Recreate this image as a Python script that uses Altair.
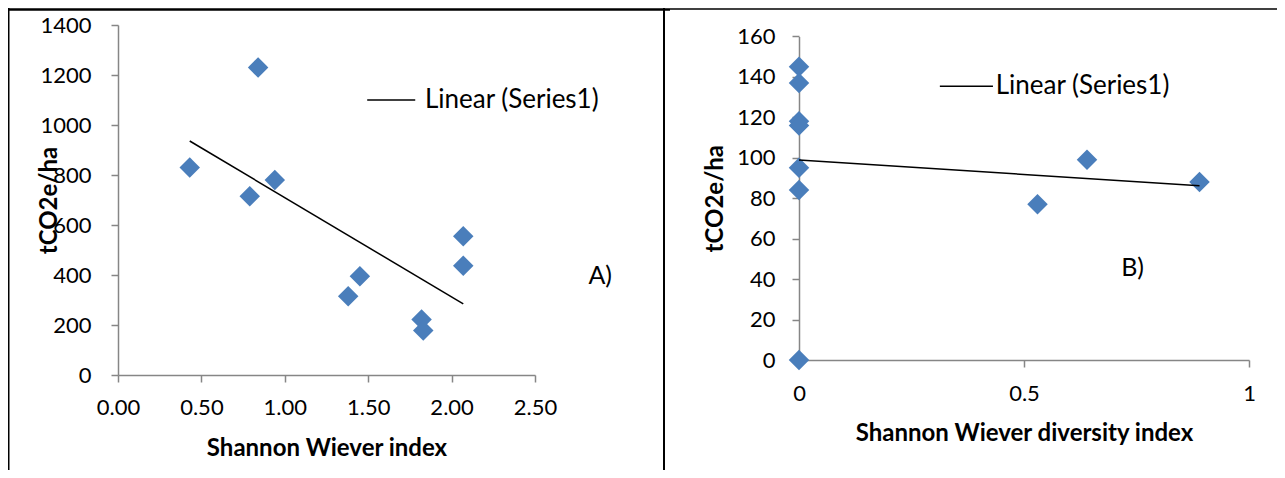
import altair as alt
import pandas as pd

# ---------------- data ----------------
# Panel A: Shannon Wiever index vs tCO2e/ha
a_x = [0.43, 0.84, 0.79, 0.94, 1.38, 1.45, 1.82, 1.83, 2.07, 2.07]
a_y = [830, 1230, 715, 780, 315, 395, 222, 178, 555, 437]
a_xticks = [0, 0.5, 1.0, 1.5, 2.0, 2.5]
a_yticks = [0, 200, 400, 600, 800, 1000, 1200, 1400]

# Panel B: Shannon Wiever diversity index vs tCO2e/ha
b_x = [0, 0, 0, 0, 0, 0, 0, 0.53, 0.64, 0.89]
b_y = [145, 137, 118, 116, 95, 84, 0, 77, 99, 88]
b_xticks = [0, 0.5, 1]
b_yticks = [0, 20, 40, 60, 80, 100, 120, 140, 160]

legend_label = ["Linear (Series1)"]
panel_a_label = ["A)"]
panel_b_label = ["B)"]

# ---------------- style ----------------
FONT = "Lato"
GRAY = "#868686"
BLUE = "#4A7EBB"
W, H = 1269, 462

dfA = pd.DataFrame({"x": a_x, "y": a_y})
dfB = pd.DataFrame({"x": b_x, "y": b_y})
dfLeg = pd.DataFrame({"t": legend_label})
dfLA = pd.DataFrame({"t": panel_a_label})
dfLB = pd.DataFrame({"t": panel_b_label})
one = pd.DataFrame({"k": [0]})


def sAx():
    return alt.Scale(domain=[0, 2.5], range=[110, 527], nice=False, zero=False)


def sAy():
    return alt.Scale(domain=[0, 1400], range=[367, 17], nice=False, zero=False)


def sBx():
    return alt.Scale(domain=[0, 1], range=[791, 1241], nice=False, zero=False)


def sBy():
    return alt.Scale(domain=[0, 160], range=[352, 28.4], nice=False, zero=False)


common_axis = dict(labelFont=FONT, labelFontSize=22, labelColor="black",
                   domainColor=GRAY, tickColor=GRAY, tickSize=7, grid=False,
                   domainWidth=1.5, tickWidth=1.5,
                   titleFont=FONT, titleFontSize=24, titleFontWeight="bold",
                   titleColor="black", labelFlush=False, labelOverlap=False)

axAx = alt.Axis(orient="bottom", offset=-95, values=a_xticks, format=".2f",
                title="Shannon Wiever index", titleX=318.5, titleY=80,
                titleBaseline="alphabetic", titleAlign="center",
                labelPadding=15, **common_axis)
axAy = alt.Axis(orient="left", offset=-110, values=a_yticks, format="d",
                title="tCO2e/ha", titleAngle=270, titleX=-62, titleY=192,
                titleBaseline="alphabetic", titleAlign="center",
                labelPadding=20, **common_axis)
axBx = alt.Axis(orient="bottom", offset=-110, values=b_xticks, format="~g",
                title="Shannon Wiever diversity index", titleX=1016, titleY=80,
                titleBaseline="alphabetic", titleAlign="center",
                labelPadding=16, **common_axis)
axBy = alt.Axis(orient="left", offset=-791, values=b_yticks, format="d",
                title="tCO2e/ha", titleAngle=270, titleX=-77, titleY=190.2,
                titleBaseline="alphabetic", titleAlign="center",
                labelPadding=17, **common_axis)

# ---------------- panel A ----------------
ptsA = alt.Chart(dfA).mark_point(shape="diamond", filled=True, size=420,
                                 color=BLUE, opacity=1).encode(
    x=alt.X("x:Q", scale=sAx(), axis=axAx),
    y=alt.Y("y:Q", scale=sAy(), axis=axAy),
)
trendA = alt.Chart(dfA).transform_regression("x", "y").mark_line(
    color="black", strokeWidth=1.5).encode(
    x=alt.X("x:Q", scale=sAx(), axis=None),
    y=alt.Y("y:Q", scale=sAy(), axis=None),
)
legLineA = alt.Chart(one).mark_rule(color="black", strokeWidth=1.5).encode(
    x=alt.XDatum(1.494, scale=sAx(), axis=None),
    x2=alt.X2Datum(1.782),
    y=alt.YDatum(1100, scale=sAy(), axis=None),
)
legTextA = alt.Chart(dfLeg).mark_text(align="left", baseline="middle", font=FONT,
                                      fontSize=26, color="black").encode(
    x=alt.XDatum(1.84, scale=sAx(), axis=None),
    y=alt.YDatum(1100, scale=sAy(), axis=None),
    text="t:N",
)
labA = alt.Chart(dfLA).mark_text(align="left", baseline="middle", font=FONT,
                                 fontSize=25, color="black").encode(
    x=alt.XDatum(2.82, scale=sAx(), axis=None),
    y=alt.YDatum(396, scale=sAy(), axis=None),
    text="t:N",
)

# ---------------- panel B ----------------
ptsB = alt.Chart(dfB).mark_point(shape="diamond", filled=True, size=420,
                                 color=BLUE, opacity=1).encode(
    x=alt.X("x:Q", scale=sBx(), axis=axBx),
    y=alt.Y("y:Q", scale=sBy(), axis=axBy),
)
trendB = alt.Chart(dfB).transform_regression("x", "y").mark_line(
    color="black", strokeWidth=1.5).encode(
    x=alt.X("x:Q", scale=sBx(), axis=None),
    y=alt.Y("y:Q", scale=sBy(), axis=None),
)
legLineB = alt.Chart(one).mark_rule(color="black", strokeWidth=1.5).encode(
    x=alt.XDatum(0.313, scale=sBx(), axis=None),
    x2=alt.X2Datum(0.431),
    y=alt.YDatum(135.3, scale=sBy(), axis=None),
)
legTextB = alt.Chart(dfLeg).mark_text(align="left", baseline="middle", font=FONT,
                                      fontSize=26, color="black").encode(
    x=alt.XDatum(0.437, scale=sBx(), axis=None),
    y=alt.YDatum(135.3, scale=sBy(), axis=None),
    text="t:N",
)
labB = alt.Chart(dfLB).mark_text(align="left", baseline="middle", font=FONT,
                                 fontSize=25, color="black").encode(
    x=alt.XDatum(0.716, scale=sBx(), axis=None),
    y=alt.YDatum(45.4, scale=sBy(), axis=None),
    text="t:N",
)

# ---------------- table border lines (decoration) ----------------
border_top_l = alt.Chart(one).mark_rule(color="black", strokeWidth=2.5).encode(
    x=alt.value(0), x2=alt.value(662), y=alt.value(1.5))
border_top_r = alt.Chart(one).mark_rule(color="black", strokeWidth=1.3).encode(
    x=alt.value(662), x2=alt.value(W), y=alt.value(1))
border_left = alt.Chart(one).mark_rule(color="black", strokeWidth=2).encode(
    x=alt.value(0.5), y=alt.value(0), y2=alt.value(H))
border_mid = alt.Chart(one).mark_rule(color="black", strokeWidth=2).encode(
    x=alt.value(656), y=alt.value(0), y2=alt.value(H))

chart = alt.layer(
    ptsA, ptsB, trendA, trendB, legLineA, legTextA, labA,
    legLineB, legTextB, labB,
    border_top_l, border_top_r, border_left, border_mid,
).resolve_scale(
    x="independent", y="independent"
).properties(
    width=W, height=H, padding=0, autosize="none", background="white"
).configure_view(stroke=None)

chart.save("out.html", embed_options={"renderer": "svg", "actions": False})
